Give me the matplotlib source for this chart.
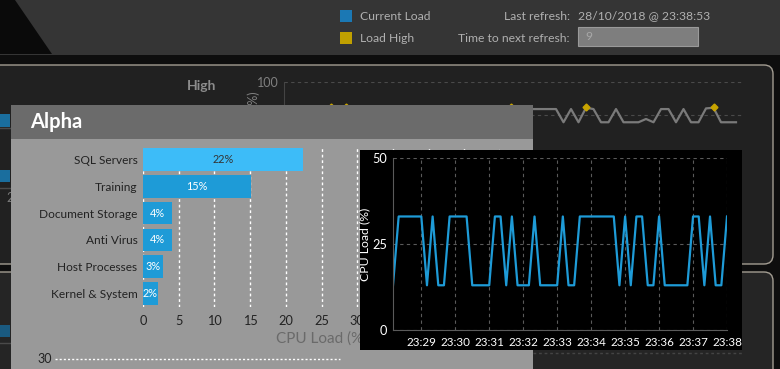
import matplotlib.pyplot as plt
from matplotlib.patches import Rectangle, FancyBboxPatch, Polygon
from datetime import datetime, timedelta

W, H = 780, 369

# Alpha popup - CPU load per category
categories = ['SQL Servers', 'Training', 'Document Storage', 'Anti Virus',
              'Host Processes', 'Kernel & System']
cpu_load = [22.4, 15.1, 4.0, 4.0, 2.8, 2.1]
bar_labels = ['22%', '15%', '4%', '4%', '3%', '2%']

# black chart: one sample every 10 s, first one at 23:28:10
start = datetime(2018, 10, 28, 23, 28, 10)
load_values = [13, 33, 33, 33, 33, 33, 13, 33, 13, 13,
               33, 33, 33, 33, 13, 13, 13, 13, 33, 33,
               13, 33, 13, 13, 13, 33, 13, 13, 13, 13,
               33, 13, 13, 33, 33, 33, 33, 33, 33, 33,
               13, 33, 13, 33, 33, 13, 13, 33, 13, 13,
               13, 13, 13, 33, 33, 13, 33, 13, 13, 33]
time_ticks = ['23:29', '23:30', '23:31', '23:32', '23:33',
              '23:34', '23:35', '23:36', '23:37', '23:38']

# panel behind the popup: only the tail (samples 31..59) is visible
high_first = 31
high_values = [59, 59, 59, 59, 59, 39, 59, 39, 61, 59,
               39, 39, 59, 39, 39, 39, 44, 39, 59, 59,
               39, 59, 39, 39, 60, 61, 39, 39, 39]
high_marks = [5, 7, 29, 39, 56]      # sample index of "Load High" points
high_mark_value = 62

plt.rcParams['font.family'] = ['Lato', 'DejaVu Sans']


def px_axes(fig, x0, y0, x1, y1, z):
    ax = fig.add_axes([x0 / W, 1 - y1 / H, (x1 - x0) / W, (y1 - y0) / H])
    ax.set_zorder(z)
    return ax


def sample_time(i):
    return start + timedelta(seconds=10 * i)


fig = plt.figure(figsize=(W / 100, H / 100), dpi=100)
fig.patch.set_facecolor('#0e0e0e')

# ---- background layer (pixel coordinates) ----
bg = px_axes(fig, 0, 0, W, H, 0)
bg.set_xlim(0, W)
bg.set_ylim(H, 0)
bg.axis('off')

bg.add_patch(Rectangle((0, 0), W, 55, fc='#353535', ec='none'))
bg.add_patch(Polygon([(0, 0), (15, 0), (52, 54), (0, 54)], fc='#0a0a0a', ec='none'))
bg.add_patch(FancyBboxPatch((-30, 65), 803, 199, boxstyle='round,pad=0,rounding_size=9',
                            fc='#212121', ec='#a39d92', lw=1))
bg.add_patch(FancyBboxPatch((-30, 272), 803, 120, boxstyle='round,pad=0,rounding_size=9',
                            fc='#252525', ec='#a39d92', lw=1))

# legend / refresh info in the header
bg.add_patch(Rectangle((340, 10), 12, 12, fc='#1b78b4', ec='none'))
bg.add_patch(Rectangle((340, 32), 12, 12, fc='#c0a000', ec='none'))
hdr = dict(color='#b0b0b0', fontsize=8.7, va='center')
bg.text(360, 16, 'Current Load', ha='left', **hdr)
bg.text(360, 38, 'Load High', ha='left', **hdr)
bg.text(570, 16, 'Last refresh:', ha='right', **hdr)
bg.text(578, 16, '28/10/2018 @ 23:38:53', ha='left', **hdr)
bg.text(570, 38, 'Time to next refresh:', ha='right', **hdr)
bg.add_patch(Rectangle((578, 27), 120, 19, fc='#7e7e7e', ec='#9a9a9a', lw=0.8))
bg.text(585, 37, '9', ha='left', color='#a8a8a8', fontsize=8.7, va='center')

# left strip of the panels
bg.add_patch(Rectangle((0, 114), 10, 13, fc='#1a6e9e', ec='none'))
bg.add_patch(Rectangle((0, 170), 10, 12, fc='#1a6e9e', ec='none'))
bg.add_patch(Rectangle((0, 325), 10, 12, fc='#1a5a80', ec='none'))
bg.plot([0, 11], [128, 128], color='#4a4a4a', lw=1)
bg.plot([0, 11], [188, 188], color='#4a4a4a', lw=1)
bg.plot([0, 11], [343, 343], color='#4a4a4a', lw=1)
bg.text(6, 198, '2', color='#7a7a7a', fontsize=9, va='center')
bg.plot([533, 742], [353, 353], color='#444444', lw=1, ls=(0, (2, 2)))

# panel title and axis label peeking over the popup
bg.text(187, 86, 'High', color='#8c8c8c', fontsize=10, fontweight='bold', va='center')
bg.text(254, 91, 'CPU Load (%)', rotation=90, color='#808080', fontsize=9,
        ha='center', va='top')

# ---- chart behind the popup ----
axh = px_axes(fig, 284, 82, 742, 148, 1)
axh.patch.set_visible(False)
axh.set_ylim(0, 100)
axh.set_xlim(sample_time(-1.27), sample_time(59.8))
tail_times = [sample_time(high_first + k) for k in range(len(high_values))]
axh.plot(tail_times, high_values, color='#7a7a7a', lw=1.6)
axh.plot([sample_time(i) for i in high_marks], [high_mark_value] * len(high_marks),
         ls='none', marker='D', ms=3.5, color='#c8a400')
axh.set_yticks([50, 100])
axh.set_yticklabels(['', '100'])
axh.set_xticks([])
axh.yaxis.grid(True, color='#4a4a4a', ls=(0, (3, 3)), lw=0.8)
axh.tick_params(axis='y', length=0, labelcolor='#808080', labelsize=9, pad=4)
for s in ['top', 'right', 'bottom']:
    axh.spines[s].set_visible(False)
axh.spines['left'].set_color('#444444')

# ---- Alpha popup ----
pop = px_axes(fig, 0, 0, W, H, 2)
pop.set_xlim(0, W)
pop.set_ylim(H, 0)
pop.axis('off')
pop.add_patch(Rectangle((11, 105), 522, 270, fc='#999999', ec='none'))
pop.add_patch(Rectangle((11, 105), 522, 34, fc='#6b6b6b', ec='none'))
pop.text(30, 122, 'Alpha', color='white', fontsize=14.5, fontweight='bold',
         va='center', ha='left')
pop.text(52, 359, '30', color='#222222', fontsize=9, ha='right', va='center')
pop.plot([55, 340], [359, 359], color='white', lw=1, ls=(0, (1.5, 1.5)))

axb = px_axes(fig, 143, 146, 500, 307, 3)
axb.patch.set_visible(False)
bar_colors = ['#3dbcf8'] + ['#1e9bd7'] * (len(categories) - 1)
axb.barh(range(len(categories)), cpu_load, height=0.84, color=bar_colors, zorder=2)
for i, (v, lab) in enumerate(zip(cpu_load, bar_labels)):
    axb.text(v / 2, i, lab, ha='center', va='center', fontsize=7.8,
             color='#333333' if i == 0 else 'white', zorder=3)
axb.set_xlim(0, 50)
axb.set_ylim(len(categories) - 0.5, -0.5)
axb.set_yticks(range(len(categories)))
axb.set_yticklabels(categories)
axb.set_xticks(range(0, 55, 5))
axb.xaxis.grid(True, color='white', ls=(0, (2, 2)), lw=1, zorder=1)
axb.set_axisbelow(True)
axb.tick_params(length=0, labelcolor='#222222')
axb.tick_params(axis='y', pad=4, labelsize=8.6)
axb.tick_params(axis='x', pad=6, labelsize=9.2)
axb.set_xlabel('CPU Load (%)', color='#6a6a6a', fontsize=11, labelpad=3)
for s in axb.spines.values():
    s.set_visible(False)

# ---- black CPU load chart ----
blk = px_axes(fig, 360, 150, 742, 350, 4)
blk.set_facecolor('black')
blk.set_xticks([])
blk.set_yticks([])
for s in blk.spines.values():
    s.set_visible(False)

axl = px_axes(fig, 393, 158, 727, 330, 5)
axl.set_facecolor('black')
times = [sample_time(i) for i in range(len(load_values))]
axl.plot(times, load_values, color='#1e9bd7', lw=1.6)
axl.set_xlim(times[0], times[-1])
axl.set_ylim(0, 50)
axl.set_yticks([0, 25, 50])
tick_pos = [datetime.strptime('2018-10-28 ' + t, '%Y-%m-%d %H:%M') for t in time_ticks]
axl.set_xticks(tick_pos)
axl.set_xticklabels(time_ticks)
axl.grid(True, color='#5a5a5a', ls=(0, (3, 3)), lw=0.8)
axl.tick_params(length=0, colors='white')
axl.tick_params(axis='x', pad=5, labelsize=8.4)
axl.tick_params(axis='y', pad=4, labelsize=9.2)
axl.set_ylabel('CPU Load (%)', color='white', fontsize=8.8)
axl.yaxis.set_label_coords(-0.068, 0.5)
for s in ['top', 'right']:
    axl.spines[s].set_visible(False)
for s in ['left', 'bottom']:
    axl.spines[s].set_color('#5a5a5a')

fig.savefig('out.png', dpi=100, facecolor=fig.get_facecolor())
